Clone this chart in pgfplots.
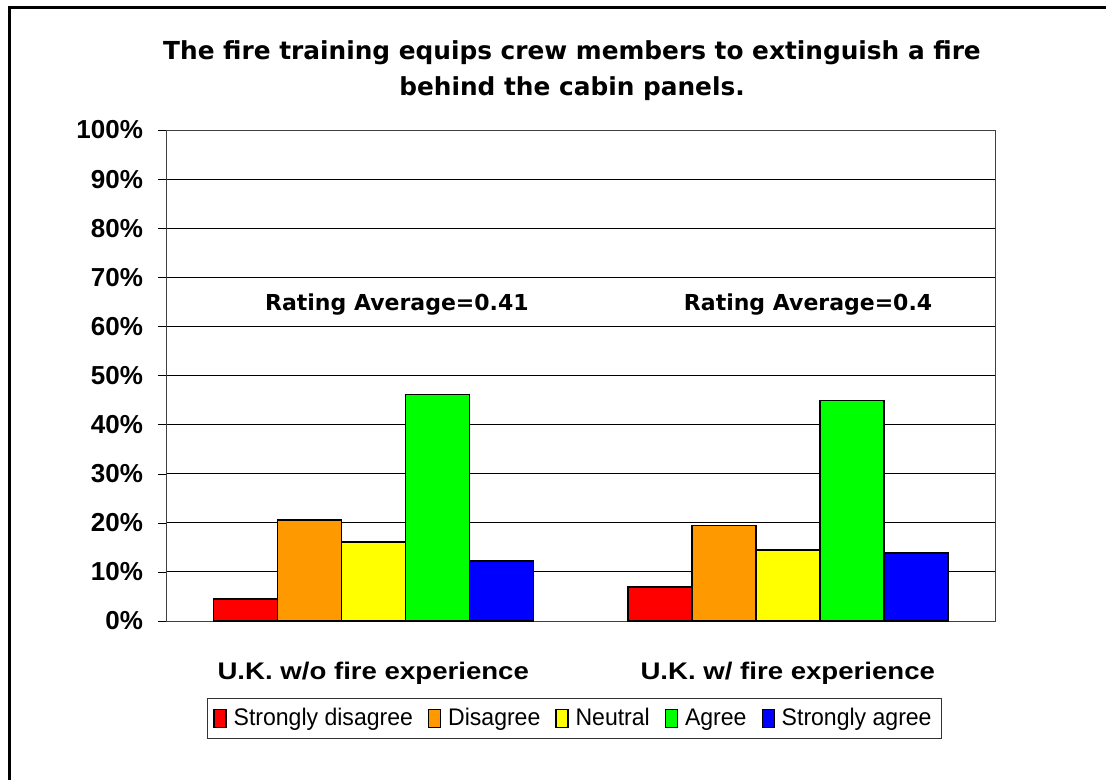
\documentclass[border=0pt]{standalone}
\usepackage{fontspec}
\setmainfont{Liberation Sans}
\newfontfamily\dejavu{DejaVu Sans}
\newfontfamily\widefont[FakeStretch=1.15]{Liberation Sans}
\newfontfamily\narrowfont[FakeStretch=0.96]{Liberation Sans}
\usepackage{pgfplots}
\pgfplotsset{compat=1.18}

\definecolor{sdis}{HTML}{FF0000}
\definecolor{dis}{HTML}{FF9900}
\definecolor{neu}{HTML}{FFFF00}
\definecolor{agr}{HTML}{00FF00}
\definecolor{sagr}{HTML}{0000FF}

\begin{document}
\begin{tikzpicture}
    \path[use as bounding box] (0pt,0pt) rectangle (553pt,-390pt);
    \draw[line width=1.5pt] (4.6pt,-400pt) -- (4.6pt,-3.6pt) -- (560pt,-3.6pt);

    \node[align=center, font=\dejavu\bfseries\fontsize{12.4}{18}\selectfont]
        at (286pt,-35.5pt)
        {The fire training equips crew members to extinguish a fire\\behind the cabin panels.};

    \begin{axis}[
        at={(83pt,-310.5pt)},
        anchor=south west,
        width=414.5pt,
        height=245.5pt,
        scale only axis,
        xmin=-0.5, xmax=1.5,
        ymin=0, ymax=100,
        ybar=0pt,
        bar width=32pt,
        axis line style={black!75},
        tick pos=left,
        xtick={0,1},
        xticklabels={U.K. w/o fire experience, U.K. w/ fire experience},
        major x tick style={draw=none},
        x tick label style={font=\widefont\bfseries\fontsize{12}{14}\selectfont, yshift=-13pt},
        extra x ticks={-0.5,0.5,1.5},
        extra x tick labels={},
        extra x tick style={tick align=inside, major tick length=4.5pt, tick style={black!70}},
        ytick={0,10,...,100},
        yticklabels={0\%,10\%,20\%,30\%,40\%,50\%,60\%,70\%,80\%,90\%,100\%},
        y tick label style={font=\bfseries\fontsize{13}{14}\selectfont, xshift=-4pt},
        ytick align=outside,
        major tick length=4pt,
        ytick style={black},
        ymajorgrids=true,
        major grid style={black, line width=0.5pt},
        every axis plot/.append style={draw=black, line width=0.75pt},
        legend image code/.code={
            \draw[#1, line width=0.6pt] (0pt,-4.5pt) rectangle (6pt,4.5pt);
        },
        legend columns=-1,
        legend style={
            at={(0.4928,-0.1986)},
            anchor=center,
            draw=black!80,
            font=\narrowfont\fontsize{12}{13}\selectfont,
            inner xsep=3pt,
            inner ysep=3pt,
            /tikz/every odd column/.append style={column sep=1.5pt},
            /tikz/every even column/.append style={column sep=5.5pt}
        },
    ]
        \addplot[fill=sdis] coordinates {(0,4.5) (1,6.9)};
        \addplot[fill=dis]  coordinates {(0,20.6) (1,19.5)};
        \addplot[fill=neu]  coordinates {(0,16.1) (1,14.5)};
        \addplot[fill=agr]  coordinates {(0,46.1) (1,44.9)};
        \addplot[fill=sagr] coordinates {(0,12.2) (1,13.8)};
        \legend{Strongly disagree, Disagree, Neutral, Agree, Strongly agree}

        \node[font=\dejavu\bfseries\fontsize{11}{13}\selectfont] at (axis cs:0.057,64.4) {Rating Average=0.41};
        \node[font=\dejavu\bfseries\fontsize{11}{13}\selectfont] at (axis cs:1.049,64.4) {Rating Average=0.4};
    \end{axis}
\end{tikzpicture}
\end{document}
